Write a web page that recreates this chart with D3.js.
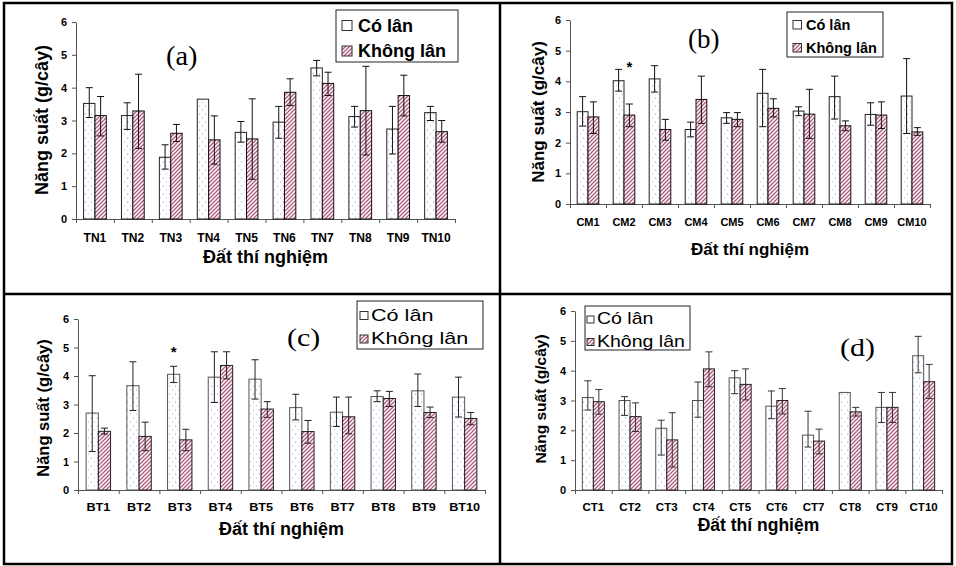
<!DOCTYPE html>
<html>
<head>
<meta charset="utf-8">
<script src="https://cdn.jsdelivr.net/npm/d3@7"></script>
<style>
  body { margin: 0; background: #fff; }
  svg { display: block; font-family: "Liberation Sans", Arial, sans-serif; }
</style>
</head>
<body>
<script>
// ---- data ----
var tnCats = ["TN1","TN2","TN3","TN4","TN5","TN6","TN7","TN8","TN9","TN10"];
var cmCats = ["CM1","CM2","CM3","CM4","CM5","CM6","CM7","CM8","CM9","CM10"];
var btCats = ["BT1","BT2","BT3","BT4","BT5","BT6","BT7","BT8","BT9","BT10"];
var ctCats = ["CT1","CT2","CT3","CT4","CT5","CT6","CT7","CT8","CT9","CT10"];

var seriesNames = ["Có lân", "Không lân"];
var yTicks = [0, 1, 2, 3, 4, 5, 6];

// (a)
var tnCo = [3.52, 3.15, 1.88, 3.65, 2.64, 2.95, 4.6, 3.12, 2.74, 3.24];
var tnCoErr = [[3.09,4.0],[2.73,3.54],[1.52,2.26],null,[2.34,2.97],[2.46,3.43],[4.36,4.83],[2.8,3.43],[1.98,3.43],[3.0,3.43]];
var tnKhong = [3.15, 3.29, 2.61, 2.41, 2.44, 3.86, 4.13, 3.3, 3.76, 2.66];
var tnKhongErr = [[2.53,3.73],[2.15,4.41],[2.36,2.88],[1.67,3.14],[1.21,3.66],[3.46,4.27],[3.76,4.47],[1.95,4.65],[3.14,4.38],[2.34,3.0]];

// (b)
var cmCo = [3.01, 4.02, 4.08, 2.43, 2.81, 3.61, 3.03, 3.5, 2.92, 3.52];
var cmCoErr = [[2.54,3.5],[3.68,4.39],[3.65,4.51],[2.19,2.67],[2.63,2.98],[2.52,4.39],[2.88,3.17],[2.77,4.17],[2.57,3.3],[2.3,4.74]];
var cmKhong = [2.84, 2.9, 2.43, 3.41, 2.76, 3.12, 2.93, 2.55, 2.9, 2.35];
var cmKhongErr = [[2.3,3.33],[2.52,3.26],[2.08,2.76],[2.63,4.17],[2.52,2.98],[2.84,3.43],[2.14,3.74],[2.39,2.71],[2.46,3.33],[2.24,2.49]];

// (c)
var btCo = [2.7, 3.66, 4.06, 3.96, 3.89, 2.89, 2.73, 3.28, 3.48, 3.26];
var btCoErr = [[1.35,4.01],[2.79,4.5],[3.77,4.34],[3.07,4.85],[3.19,4.57],[2.46,3.36],[2.23,3.26],[3.1,3.48],[2.93,4.07],[2.56,3.96]];
var btKhong = [2.06, 1.88, 1.76, 4.37, 2.84, 2.05, 2.57, 3.21, 2.72, 2.51];
var btKhongErr = [[1.96,2.17],[1.38,2.38],[1.38,2.13],[3.9,4.85],[2.55,3.1],[1.64,2.44],[1.97,3.26],[2.93,3.46],[2.54,2.91],[2.29,2.72]];

// (d)
var ctCo = [3.1, 3.0, 2.07, 3.0, 3.76, 2.81, 1.84, 3.27, 2.77, 4.5];
var ctCoErr = [[2.68,3.66],[2.5,3.13],[1.17,2.34],[2.44,3.62],[3.23,4.0],[2.39,3.32],[1.44,2.64],null,[2.26,3.27],[3.93,5.15]];
var ctKhong = [2.96, 2.46, 1.68, 4.06, 3.54, 3.0, 1.64, 2.62, 2.77, 3.63];
var ctKhongErr = [[2.54,3.37],[1.96,2.92],[0.77,2.59],[3.46,4.63],[3.02,4.06],[2.55,3.4],[1.21,2.04],[2.48,2.77],[2.26,3.27],[3.07,4.21]];

// significance marks
var cmStars = [{cat: "CM2", s: 1, v: 4.6}];
var btStars = [{cat: "BT3", s: 0, v: 5.0}];

// ---- drawing ----
var svg = d3.select("body").append("svg")
    .attr("width", 956)
    .attr("height", 566);

var defs = svg.append("defs");

var dots = defs.append("pattern")
    .attr("id", "dots")
    .attr("patternUnits", "userSpaceOnUse")
    .attr("width", 6).attr("height", 8);
dots.append("rect").attr("width", 6).attr("height", 8).attr("fill", "#fff");
dots.append("circle").attr("cx", 1.5).attr("cy", 2).attr("r", 0.7).attr("fill", "#a9a9ee");
dots.append("circle").attr("cx", 4.5).attr("cy", 6).attr("r", 0.7).attr("fill", "#c4c4f2");

var hatch = defs.append("pattern")
    .attr("id", "hatch")
    .attr("patternUnits", "userSpaceOnUse")
    .attr("width", 4).attr("height", 4);
hatch.append("rect").attr("width", 4).attr("height", 4).attr("fill", "#fff");
hatch.append("path")
    .attr("d", "M-1,1 l2,-2 M0,4 l4,-4 M3,5 l2,-2")
    .attr("stroke", "#b0587f")
    .attr("stroke-width", 1.3);

var fills = ["url(#dots)", "url(#hatch)"];

function drawPanel(p) {
    var g = svg.append("g");

    var y = d3.scaleLinear().domain([0, 6]).range([p.y0, p.y6]);
    var xb = d3.scaleBand().domain(p.cats).range([p.x0, p.x1]);
    var xl = d3.scaleLinear().domain([0, p.cats.length]).range([p.x0, p.x1]);
    var bw = xb.bandwidth() * 0.3;

    // axes
    var ya = g.append("g")
        .attr("transform", "translate(" + p.x0 + ",0)")
        .call(d3.axisLeft(y).tickValues(yTicks).tickFormat(d3.format("d")).tickSize(4).tickSizeOuter(0).tickPadding(5));
    ya.selectAll("text")
        .attr("font-size", 11).attr("font-weight", "bold")
        .attr("font-family", "Liberation Sans, Arial, sans-serif").attr("fill", "#000");
    ya.selectAll("line, path").attr("stroke", "#555");

    var xa = g.append("g")
        .attr("transform", "translate(0," + p.y0 + ")")
        .call(d3.axisBottom(xl).tickValues(d3.range(p.cats.length + 1)).tickFormat("").tickSize(4).tickSizeOuter(0));
    xa.selectAll("line, path").attr("stroke", "#555");

    g.selectAll(".cat")
        .data(p.cats).enter()
        .append("text")
        .attr("text-anchor", "middle")
        .attr("font-size", p.tickFont).attr("font-weight", "bold")
        .attr("transform", function(d) {
            return "translate(" + (xb(d) + xb.bandwidth() / 2) + "," + p.catY + ") scale(" + p.catSx + ",1)";
        })
        .attr("dy", "0.35em")
        .text(function(d) { return d; });

    // bars + error bars
    p.series.forEach(function(s, si) {
        var bars = p.cats.map(function(c, i) {
            return { cat: c, v: s.values[i], err: s.err[i] };
        });
        var bx = function(d) { return xb(d.cat) + xb.bandwidth() / 2 - bw + si * bw; };

        g.append("g").selectAll("rect")
            .data(bars).enter()
            .append("rect")
            .attr("x", bx)
            .attr("y", function(d) { return y(d.v); })
            .attr("width", bw)
            .attr("height", function(d) { return y(0) - y(d.v); })
            .attr("fill", fills[si])
            .attr("stroke", s.stroke)
            .attr("stroke-width", 1);

        var eg = g.append("g").selectAll("g")
            .data(bars.filter(function(d) { return d.err; })).enter()
            .append("g")
            .attr("stroke", p.errStroke)
            .attr("stroke-width", 1);
        eg.append("line")
            .attr("x1", function(d) { return bx(d) + bw / 2; })
            .attr("x2", function(d) { return bx(d) + bw / 2; })
            .attr("y1", function(d) { return y(d.err[0]); })
            .attr("y2", function(d) { return y(d.err[1]); });
        [0, 1].forEach(function(k) {
            eg.append("line")
                .attr("x1", function(d) { return bx(d) + bw / 2 - 3.5; })
                .attr("x2", function(d) { return bx(d) + bw / 2 + 3.5; })
                .attr("y1", function(d) { return y(d.err[k]); })
                .attr("y2", function(d) { return y(d.err[k]); });
        });
    });

    // stars
    g.selectAll(".star")
        .data(p.stars).enter()
        .append("text")
        .attr("text-anchor", "middle")
        .attr("font-size", 15).attr("font-weight", "bold")
        .attr("x", function(d) { return xb(d.cat) + xb.bandwidth() / 2 - bw / 2 + d.s * bw; })
        .attr("y", function(d) { return y(d.v); })
        .attr("dy", "0.6em")
        .text("*");

    // titles
    g.append("text")
        .attr("text-anchor", "middle")
        .attr("font-size", p.xTitleFont).attr("font-weight", "bold")
        .attr("x", (p.x0 + p.x1) / 2).attr("y", p.xTitleY)
        .attr("dy", "0.35em")
        .text("Đất thí nghiệm");

    g.append("text")
        .attr("text-anchor", "middle")
        .attr("font-size", p.yTitleFont).attr("font-weight", "bold")
        .attr("transform", "translate(" + p.yTitleX + "," + p.yTitleY + ") rotate(-90)")
        .attr("dy", "0.35em")
        .text("Năng suất (g/cây)");

    g.append("text")
        .attr("font-family", "Liberation Serif, Times New Roman, serif")
        .attr("font-size", p.tagFont)
        .attr("transform", "translate(" + p.tagX + "," + p.tagY + ") scale(" + p.tagSx + ",1)")
        .text(p.tag);

    // legend
    var L = p.legend;
    var lg = g.append("g");
    lg.append("rect")
        .attr("x", L.x).attr("y", L.y).attr("width", L.w).attr("height", L.h)
        .attr("fill", "#fff").attr("stroke", "#222").attr("stroke-width", 1);
    seriesNames.forEach(function(name, i) {
        var by = L.rows[i];
        lg.append("rect")
            .attr("x", L.sw).attr("y", by - L.ss - 1)
            .attr("width", L.ss).attr("height", L.ss)
            .attr("fill", i === 0 ? "#fff" : fills[1])
            .attr("stroke", "#333").attr("stroke-width", 1);
        lg.append("text")
            .attr("font-size", L.font)
            .attr("font-weight", L.bold ? "bold" : "normal")
            .attr("transform", "translate(" + L.tx + "," + by + ") scale(" + L.sx + ",1)")
            .text(name);
    });
}

drawPanel({
    cats: tnCats, x0: 76, x1: 455, y0: 219, y6: 22,
    series: [{ values: tnCo, err: tnCoErr, stroke: "#222" }, { values: tnKhong, err: tnKhongErr, stroke: "#111" }],
    errStroke: "#111", stars: [],
    tickFont: 12, catY: 238, catSx: 1,
    xTitleFont: 18, xTitleY: 257,
    yTitleFont: 18, yTitleX: 42, yTitleY: 120,
    tag: "(a)", tagFont: 27, tagX: 166, tagY: 65, tagSx: 1.05,
    legend: { x: 336, y: 10, w: 122, h: 52, sw: 342, ss: 10, tx: 358, rows: [31.5, 57], font: 18, bold: true, sx: 1 }
});

drawPanel({
    cats: cmCats, x0: 570, x1: 930, y0: 204, y6: 20,
    series: [{ values: cmCo, err: cmCoErr, stroke: "#222" }, { values: cmKhong, err: cmKhongErr, stroke: "#111" }],
    errStroke: "#111", stars: cmStars,
    tickFont: 11, catY: 222, catSx: 1,
    xTitleFont: 17, xTitleY: 249,
    yTitleFont: 17, yTitleX: 538, yTitleY: 112,
    tag: "(b)", tagFont: 27, tagX: 688, tagY: 48, tagSx: 1,
    legend: { x: 787, y: 12, w: 96, h: 45, sw: 793, ss: 8.5, tx: 806, rows: [30, 53], font: 14.5, bold: true, sx: 1 }
});

drawPanel({
    cats: btCats, x0: 78, x1: 485, y0: 490, y6: 319,
    series: [{ values: btCo, err: btCoErr, stroke: "#555" }, { values: btKhong, err: btKhongErr, stroke: "#222" }],
    errStroke: "#222", stars: btStars,
    tickFont: 11, catY: 507, catSx: 1.15,
    xTitleFont: 18, xTitleY: 529,
    yTitleFont: 16.5, yTitleX: 43, yTitleY: 408,
    tag: "(c)", tagFont: 25, tagX: 287, tagY: 346, tagSx: 1.2,
    legend: { x: 357, y: 301, w: 126, h: 48, sw: 360, ss: 8, tx: 371, rows: [320.5, 344], font: 16, bold: false, sx: 1.35 }
});

drawPanel({
    cats: ctCats, x0: 575, x1: 942, y0: 490, y6: 311,
    series: [{ values: ctCo, err: ctCoErr, stroke: "#555" }, { values: ctKhong, err: ctKhongErr, stroke: "#222" }],
    errStroke: "#333", stars: [],
    tickFont: 11, catY: 507, catSx: 1.05,
    xTitleFont: 17.5, xTitleY: 525,
    yTitleFont: 15.5, yTitleX: 541, yTitleY: 399,
    tag: "(d)", tagFont: 25, tagX: 840, tagY: 356, tagSx: 1.2,
    legend: { x: 585, y: 306, w: 105, h: 44, sw: 587, ss: 7, tx: 597, rows: [324, 346.5], font: 16, bold: false, sx: 1.22 }
});

// panel frames
svg.append("rect")
    .attr("x", 4).attr("y", 3).attr("width", 948).attr("height", 561)
    .attr("fill", "none").attr("stroke", "#000").attr("stroke-width", 2.5);
svg.append("line")
    .attr("x1", 500).attr("x2", 500).attr("y1", 3).attr("y2", 564)
    .attr("stroke", "#000").attr("stroke-width", 2.5);
svg.append("line")
    .attr("x1", 4).attr("x2", 952).attr("y1", 294).attr("y2", 294)
    .attr("stroke", "#000").attr("stroke-width", 2.5);
</script>
</body>
</html>
